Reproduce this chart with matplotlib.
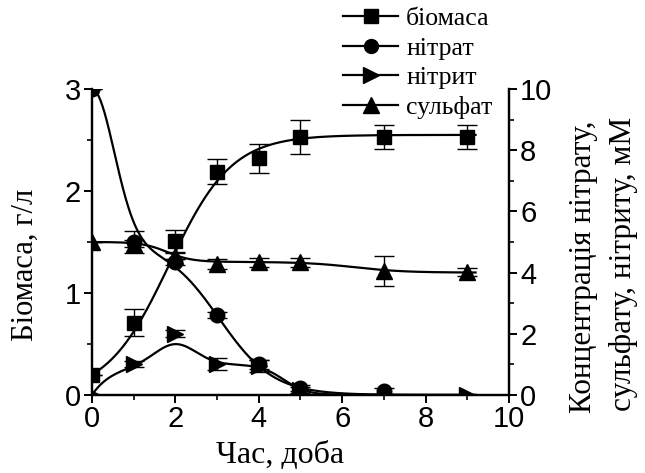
import matplotlib
matplotlib.use("Agg")
import matplotlib.pyplot as plt
import numpy as np
from matplotlib.ticker import MultipleLocator

# виміряні точки
days = [0, 1, 2, 3, 4, 5, 7, 9]
biomass = [0.2, 0.71, 1.51, 2.19, 2.32, 2.53, 2.53, 2.53]
biomass_err = [0.0, 0.13, 0.11, 0.12, 0.14, 0.17, 0.12, 0.12]

nitrate_days = [0, 1, 2, 3, 4, 5, 7]
nitrate = [10.0, 5.0, 4.35, 2.6, 1.0, 0.23, 0.13]
nitrate_err = [0.0, 0.35, 0.1, 0.1, 0.15, 0.1, 0.1]

nitrite_days = [0, 1, 2, 3, 4, 5, 9]
nitrite = [0.0, 1.0, 2.0, 1.0, 0.95, 0.17, 0.0]
nitrite_err = [0.0, 0.1, 0.12, 0.2, 0.2, 0.1, 0.0]

sulfate_days = [0, 1, 2, 3, 4, 5, 7, 9]
sulfate = [5.0, 4.95, 4.55, 4.28, 4.33, 4.33, 4.06, 4.02]
sulfate_err = [0.0, 0.1, 0.1, 0.15, 0.15, 0.15, 0.49, 0.12]

# параметри апроксимаційних кривих (оцінені з рисунка)
bio_fit = dict(A=2.55, x0=1.85, dx=0.75)
nitrate_fit = dict(fast=5.05, w=0.75, slow=5.0, x0=3.05, dx=0.65)
nitrite_fit = dict(base=1.0, t=0.5, x0=4.6, dx=0.28, bump=0.68, xc=2.0, w=0.7)
sulfate_fit = dict(y0=5.0, y1=4.35, y2=4.0, x1=1.8, d1=0.3, x2=6.3, d2=0.6)


def boltz(x, x0, dx):
    return 1.0 / (1.0 + np.exp((x - x0) / dx))


xs = np.linspace(0, 9.2, 400)
p = bio_fit
bio_curve = p["A"] * (1 - boltz(xs, p["x0"], p["dx"]))
p = nitrate_fit
nitrate_curve = p["fast"] * np.exp(-(xs / p["w"]) ** 2) + p["slow"] * boltz(xs, p["x0"], p["dx"])
p = nitrite_fit
nitrite_curve = (p["base"] * (1 - np.exp(-xs / p["t"])) * boltz(xs, p["x0"], p["dx"])
                 + p["bump"] * np.exp(-((xs - p["xc"]) / p["w"]) ** 2))
p = sulfate_fit
sulfate_curve = (p["y2"] + (p["y0"] - p["y1"]) * boltz(xs, p["x1"], p["d1"])
                 + (p["y1"] - p["y2"]) * boltz(xs, p["x2"], p["d2"]))

plt.rcParams["font.family"] = "Liberation Sans"
serif = "Liberation Serif"

fig = plt.figure(figsize=(6.45, 4.73), dpi=100)
ax = fig.add_axes([0.1426, 0.165, 0.6464, 0.6468])
ax2 = ax.twinx()

lw = 1.6
eb = dict(capsize=7, elinewidth=1.0, capthick=1.0, ecolor="black", color="black",
          linestyle="none")

ax.plot(xs, bio_curve, color="black", lw=lw)
ax.errorbar(days, biomass, yerr=biomass_err, marker="s", markersize=10, **eb)

ax2.plot(xs, nitrate_curve, color="black", lw=lw)
ax2.plot(xs, nitrite_curve, color="black", lw=lw)
ax2.plot(xs, sulfate_curve, color="black", lw=lw)
ax2.errorbar(nitrate_days, nitrate, yerr=nitrate_err, marker="o", markersize=10.5, **eb)
ax2.errorbar(nitrite_days, nitrite, yerr=nitrite_err, marker=">", markersize=11, **eb)
ax2.errorbar(sulfate_days, sulfate, yerr=sulfate_err, marker="^", markersize=11, **eb)

ax.set_xlim(0, 10)
ax.set_ylim(0, 3)
ax2.set_ylim(0, 10)

ax.xaxis.set_major_locator(MultipleLocator(2))
ax.xaxis.set_minor_locator(MultipleLocator(1))
ax.yaxis.set_major_locator(MultipleLocator(1))
ax.yaxis.set_minor_locator(MultipleLocator(0.5))
ax2.yaxis.set_major_locator(MultipleLocator(2))
ax2.yaxis.set_minor_locator(MultipleLocator(1))

for a in (ax, ax2):
    a.spines["top"].set_visible(False)
    for s in a.spines.values():
        s.set_linewidth(1.6)
    a.tick_params(which="major", direction="out", length=6, width=1.4, labelsize=21, pad=2)
    a.tick_params(which="minor", direction="out", length=3.5, width=1.2)
ax.tick_params(axis="x", pad=1)

# підписи осей
fig.text(0.039, 0.440, "Біомаса, г/л", family=serif, fontsize=22,
         rotation=90, ha="center", va="center")
fig.text(0.434, 0.021, "Час, доба", family=serif, fontsize=23, ha="center", va="baseline")
fig.text(0.905, 0.4355, "Концентрація нітрату,", family=serif, fontsize=22.5,
         rotation=90, ha="center", va="center")
fig.text(0.967, 0.442, "сульфату, нітриту, мМ", family=serif, fontsize=22.5,
         rotation=90, ha="center", va="center")

handles = [
    plt.Line2D([], [], color="black", lw=lw, marker="s", markersize=10),
    plt.Line2D([], [], color="black", lw=lw, marker="o", markersize=10),
    plt.Line2D([], [], color="black", lw=lw, marker=">", markersize=11),
    plt.Line2D([], [], color="black", lw=lw, marker="^", markersize=11),
]
labels = ["біомаса", "нітрат", "нітрит", "сульфат"]
fig.legend(handles, labels, loc="upper left", bbox_to_anchor=(0.530, 0.987),
           frameon=False, prop={"family": serif, "size": 18.5}, handlelength=2.15,
           handletextpad=0.3, labelspacing=0.25, borderaxespad=0.0, borderpad=0.05)

fig.savefig("out.png", dpi=100)
